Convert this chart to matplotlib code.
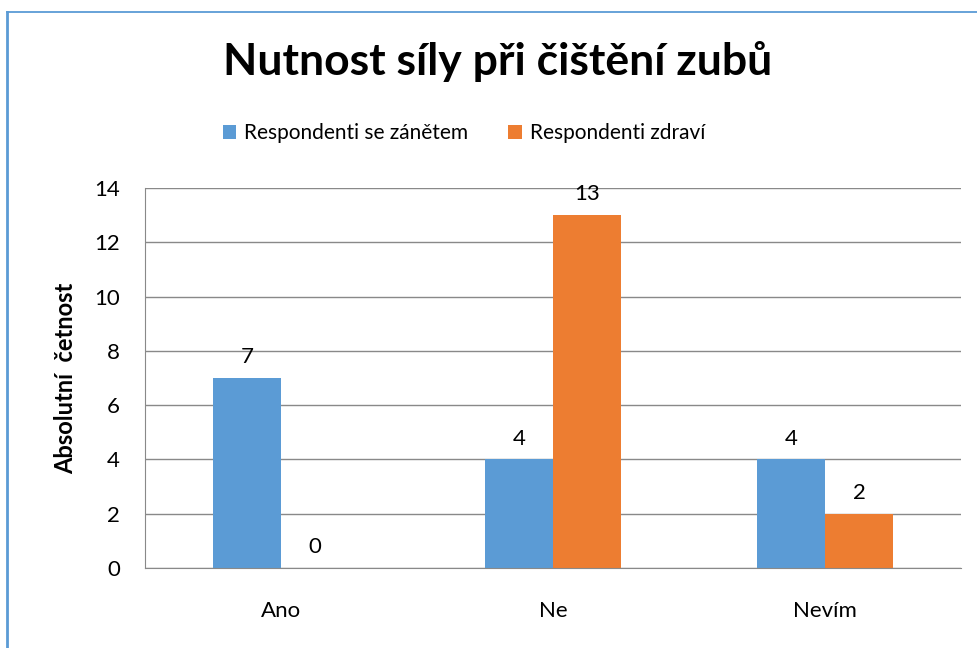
import matplotlib

matplotlib.use('Agg')
import matplotlib.pyplot as plt
import numpy as np
from matplotlib.lines import Line2D

plt.rcParams['font.family'] = ['Lato', 'DejaVu Sans']

categories = ["Ano", "Ne", "Nevím"]
series_names = ["Respondenti se zánětem", "Respondenti zdraví"]
zanet = [7, 4, 4]
zdravi = [0, 13, 2]
y_ticks = [0, 2, 4, 6, 8, 10, 12, 14]

blue = "#5B9BD5"
orange = "#ED7D31"
grid_col = "#898989"

fig = plt.figure(figsize=(9.77, 6.48), dpi=100)
ax = fig.add_axes([145 / 977, 1 - 568 / 648, (961 - 145) / 977, (568 - 188) / 648])

x = np.arange(len(categories))
w = 0.25
b1 = ax.bar(x - w / 2, zanet, w, color=blue, label=series_names[0])
b2 = ax.bar(x + w / 2, zdravi, w, color=orange, label=series_names[1])

for bars, vals in [(b1, zanet), (b2, zdravi)]:
    for r, v in zip(bars, vals):
        ax.annotate(str(v), (r.get_x() + r.get_width() / 2, v),
                    xytext=(0, 15), textcoords="offset points",
                    ha="center", va="center", fontsize=16)

ax.set_xlim(-0.5, len(categories) - 0.5)
ax.set_ylim(0, 14)
ax.set_yticks(y_ticks)
ax.set_xticks(x)
ax.set_xticklabels(categories)
ax.tick_params(axis="both", length=0, labelsize=16)
ax.tick_params(axis="x", pad=24)
ax.tick_params(axis="y", pad=18)
ax.yaxis.grid(True, color=grid_col, linewidth=1)
ax.set_axisbelow(True)
for s in ["top", "right"]:
    ax.spines[s].set_visible(False)
ax.spines["left"].set_color(grid_col)
ax.spines["bottom"].set_color(grid_col)
ax.set_ylabel("Absolutní  četnost", fontsize=17, fontweight="bold", labelpad=12)

fig.text(498 / 977, 1 - 62 / 648, "Nutnost síly při čištění zubů",
         ha="center", va="center", fontsize=32, fontweight="bold")

fig.legend(handles=[b1, b2], loc="center", bbox_to_anchor=(464 / 977, 1 - 133 / 648),
           ncol=2, frameon=False, fontsize=15, handlelength=0.65, handleheight=0.65,
           handletextpad=0.4, columnspacing=1.9)

# outer chart border (only top and left edges are visible)
fig.add_artist(Line2D([7 / 977, 7 / 977], [0, 1 - 12 / 648], transform=fig.transFigure,
                      color=blue, linewidth=2))
fig.add_artist(Line2D([7 / 977, 1], [1 - 12 / 648, 1 - 12 / 648], transform=fig.transFigure,
                      color=blue, linewidth=1.3))

fig.savefig("out.png", dpi=100)
